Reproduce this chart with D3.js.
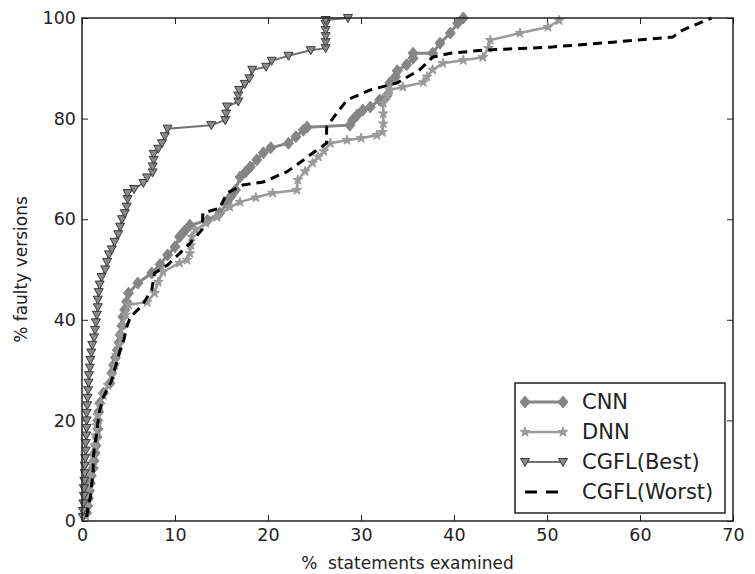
<!DOCTYPE html>
<html>
<head>
<meta charset="utf-8">
<script src="https://cdn.jsdelivr.net/npm/d3@7"></script>
<style>
  body { margin: 0; background: #fff; }
  text { font-family: "DejaVu Sans", sans-serif; }
</style>
</head>
<body>
<div id="chart"></div>
<script>
// Data: [% statements examined, % faulty versions]
var cnnPoints = [[0.5,1.6],[0.6,3],[0.7,4.5],[0.8,6],[0.9,7.5],[1.0,9],[1.2,10.5],[1.3,12],[1.4,13.5],[1.5,15],[1.6,16.7],[1.7,18.3],[1.7,20],[1.8,21.7],[1.9,23.4],[2.3,25.4],[3.0,27.4],[3.2,29.4],[3.4,31],[3.6,32.5],[3.8,34],[4.0,35.5],[4.1,37],[4.3,38.8],[4.4,40.6],[4.6,42],[4.8,43.6],[5.0,45.3],[6.0,47.3],[7.5,49.3],[8.4,51],[9.2,52.9],[10.0,54.5],[10.5,56.5],[11.0,57.6],[11.6,58.8],[13.5,59.8],[14.8,61.2],[15.6,63.2],[16.0,64.5],[16.5,65.8],[17.0,68.4],[17.6,69.4],[18.1,70.4],[18.8,71.8],[19.5,73.2],[20.3,74.2],[22.2,75.1],[23.0,76.4],[23.8,77.7],[24.2,78.3],[28.8,78.7],[29.1,79.7],[29.6,80.7],[30.2,81.7],[31.0,82.3],[32.0,83.7],[32.8,84.6],[33.1,87.1],[33.7,88.3],[33.9,89.5],[34.9,90.7],[35.6,92],[35.6,93],[37.7,93],[38.5,95],[39.6,97],[40.4,99],[41.0,100]];

var dnnPoints = [[0.4,1],[0.5,3],[0.6,5],[0.8,7],[0.9,9],[1.1,11],[1.2,13],[1.4,15],[1.5,17],[1.6,19],[1.7,21],[1.9,23],[2.3,25],[2.8,27],[3.2,29],[3.5,31],[3.7,33],[4.0,35],[4.2,37],[4.4,39],[4.7,41],[5.0,43],[7.0,43.5],[7.8,45.3],[8.2,47.5],[8.7,49.5],[10.5,51.3],[11.3,51.9],[11.6,53.2],[11.7,54.8],[11.8,56.5],[12.2,57.9],[13.3,59.2],[14.5,60.4],[15.9,62.4],[17.0,63.4],[18.7,64.3],[20.5,65.2],[23.1,65.8],[23.2,67.8],[24.0,69.5],[24.8,71.2],[25.4,72.4],[26.0,73.5],[26.7,75.1],[28.5,75.7],[30.0,76.1],[31.7,76.7],[32.3,77.3],[32.4,79],[32.4,81],[32.4,83.1],[32.8,84.5],[33.1,85.7],[34.5,86.3],[36.7,87.2],[37.1,88.3],[37.7,89.7],[38.8,91],[41.0,91.6],[43.1,92.2],[43.7,94],[43.9,95.6],[47.1,97],[50.1,98.2],[51.3,99.5]];

var bestPoints = [[0.1,0.8],[0.1,2],[0.15,3.5],[0.2,5],[0.2,6.5],[0.25,8],[0.3,9.5],[0.3,11],[0.35,12.5],[0.4,14],[0.4,15.5],[0.45,17],[0.5,18.5],[0.5,20],[0.5,21.5],[0.55,23],[0.6,24.5],[0.65,26],[0.7,27.5],[0.75,29],[0.85,30.5],[0.9,32],[1.0,33.5],[1.1,35],[1.3,36.5],[1.4,38],[1.5,39.5],[1.6,41],[1.7,42.5],[1.7,44],[1.8,45.5],[1.9,47],[2.1,48.5],[2.5,50],[2.7,51.5],[2.9,53],[3.2,54],[3.5,55.5],[3.9,57],[4.1,58.5],[4.3,60],[4.6,61.2],[4.8,62.5],[4.9,64],[4.9,65.2],[5.6,66],[6.6,67.2],[7.0,68.3],[7.6,69.3],[7.6,70.5],[7.7,71.8],[7.7,73],[8.2,74],[8.6,75.1],[8.9,76.5],[9.2,78],[13.9,78.7],[15.4,79.7],[15.5,81],[15.6,82.4],[16.8,83.4],[16.8,84.6],[16.9,85.7],[17.5,86.9],[18.0,88],[18.3,89.7],[19.8,90.3],[20.4,91.5],[22.2,92.5],[24.6,93.6],[26.2,94],[26.2,95.2],[26.2,96.4],[26.2,97.6],[26.2,98.8],[26.2,99.6],[28.6,100]];

var worstPoints = [[0.5,0.8],[0.7,3],[0.9,4.8],[1.0,6.5],[1.1,8.2],[1.2,10],[1.2,12.1],[1.3,14],[1.4,15.5],[1.6,17.5],[1.7,19.5],[1.9,22],[2.3,24.7],[3.2,28],[3.5,30],[3.8,32],[4.1,34],[4.5,36],[4.8,38.5],[5.2,40.6],[6.0,42],[6.6,43.3],[7.5,45.9],[7.8,49.3],[9.2,50.9],[10.5,53.2],[11.5,55],[12.9,57.9],[13.0,61.2],[14.8,62.2],[15.6,65.2],[17.3,66.8],[19.5,67.4],[22.0,69.4],[23.1,70.8],[25.0,73.4],[26.3,75.1],[26.3,78.3],[27.4,81.1],[28.5,83.7],[31.0,85.7],[33.9,87.1],[36.3,89.7],[37.7,92.2],[39.6,93],[43.1,93.6],[50.3,94.2],[57.1,95.2],[63.5,96.2],[64.6,97.6],[67.7,100]];

var xTicks = [0, 10, 20, 30, 40, 50, 60, 70];
var yTicks = [0, 20, 40, 60, 80, 100];
var seriesNames = ["CNN", "DNN", "CGFL(Best)", "CGFL(Worst)"];

var width = 755, height = 574;
var margin = { top: 18, right: 22, bottom: 53, left: 82 };
var iw = width - margin.left - margin.right;
var ih = height - margin.top - margin.bottom;

var svg = d3.select("#chart").append("svg")
  .attr("width", width)
  .attr("height", height);

var g = svg.append("g").attr("transform", "translate(" + margin.left + "," + margin.top + ")");

var x = d3.scaleLinear().domain([0, 70]).range([0, iw]);
var y = d3.scaleLinear().domain([0, 100]).range([ih, 0]);

// axes, ticks pointing inward on all sides
function styleAxis(sel) {
  sel.select(".domain").remove();
  sel.selectAll(".tick line").attr("stroke", "#222").attr("stroke-width", 1);
  sel.selectAll(".tick text").attr("fill", "#222").style("font-size", "17.5px").style("font-family", "DejaVu Sans");
}

g.append("g").attr("transform", "translate(0," + ih + ")")
  .call(d3.axisBottom(x).tickValues(xTicks).tickSize(-6).tickPadding(8))
  .call(styleAxis);
g.append("g")
  .call(d3.axisTop(x).tickValues(xTicks).tickSize(-6).tickFormat(""))
  .call(styleAxis);
g.append("g")
  .call(d3.axisLeft(y).tickValues(yTicks).tickSize(-6).tickPadding(6))
  .call(styleAxis);
g.append("g").attr("transform", "translate(" + iw + ",0)")
  .call(d3.axisRight(y).tickValues(yTicks).tickSize(-6).tickFormat(""))
  .call(styleAxis);

var line = d3.line().x(function (d) { return x(d[0]); }).y(function (d) { return y(d[1]); });

var diamond = { draw: function (ctx, size) {
  var w = 5, h = 6;
  ctx.moveTo(0, -h); ctx.lineTo(w, 0); ctx.lineTo(0, h); ctx.lineTo(-w, 0); ctx.closePath();
} };
var triDown = { draw: function (ctx, size) {
  ctx.moveTo(-4.5, -3.5); ctx.lineTo(4.5, -3.5); ctx.lineTo(0, 4.5); ctx.closePath();
} };

var styles = [
  { data: cnnPoints, color: "#858585", width: 3, marker: d3.symbol().type(diamond), fill: "#858585", edge: "#858585" },
  { data: dnnPoints, color: "#9a9a9a", width: 2.5, marker: d3.symbol().type(d3.symbolStar).size(30), fill: "#9a9a9a", edge: "#9a9a9a" },
  { data: bestPoints, color: "#727272", width: 2, marker: d3.symbol().type(triDown), fill: "#8a8a8a", edge: "#3a3a3a" },
  { data: worstPoints, color: "#000", width: 3, dash: "9,6", marker: null }
];

styles.forEach(function (s) {
  g.append("path")
    .datum(s.data)
    .attr("fill", "none")
    .attr("stroke", s.color)
    .attr("stroke-width", s.width)
    .attr("stroke-dasharray", s.dash || null)
    .attr("d", line);
  if (s.marker) {
    g.selectAll(null)
      .data(s.data)
      .enter()
      .append("path")
      .attr("transform", function (d) { return "translate(" + x(d[0]) + "," + y(d[1]) + ")"; })
      .attr("d", s.marker)
      .attr("fill", s.fill)
      .attr("stroke", s.edge)
      .attr("stroke-width", 1);
  }
});

// frame
g.append("rect")
  .attr("width", iw).attr("height", ih)
  .attr("fill", "none").attr("stroke", "#222").attr("stroke-width", 1.5);

// axis labels
svg.append("text")
  .attr("x", margin.left + iw / 2).attr("y", 569)
  .attr("text-anchor", "middle")
  .style("font-size", "17px").attr("fill", "#222")
  .attr("xml:space", "preserve")
  .text("%  statements examined");

svg.append("text")
  .attr("transform", "translate(27," + (margin.top + ih / 2) + ") rotate(-90)")
  .attr("text-anchor", "middle")
  .style("font-size", "17px").attr("fill", "#222")
  .text("% faulty versions");

// legend
var lg = svg.append("g").attr("transform", "translate(515,383)");
lg.append("rect").attr("width", 210).attr("height", 130)
  .attr("fill", "#fff").attr("stroke", "#222").attr("stroke-width", 1.5);

seriesNames.forEach(function (name, i) {
  var s = styles[i];
  var ry = 19 + i * 30;
  lg.append("line")
    .attr("x1", 10).attr("x2", 48).attr("y1", ry).attr("y2", ry)
    .attr("stroke", s.color).attr("stroke-width", s.width)
    .attr("stroke-dasharray", s.dash ? "12,9" : null);
  if (s.marker) {
    [10, 48].forEach(function (mx) {
      lg.append("path")
        .attr("transform", "translate(" + mx + "," + ry + ")")
        .attr("d", s.marker)
        .attr("fill", s.fill).attr("stroke", s.edge).attr("stroke-width", 1);
    });
  }
  lg.append("text")
    .attr("x", 67).attr("y", ry + 7)
    .style("font-size", "21px").attr("fill", "#222")
    .text(name);
});
</script>
</body>
</html>
